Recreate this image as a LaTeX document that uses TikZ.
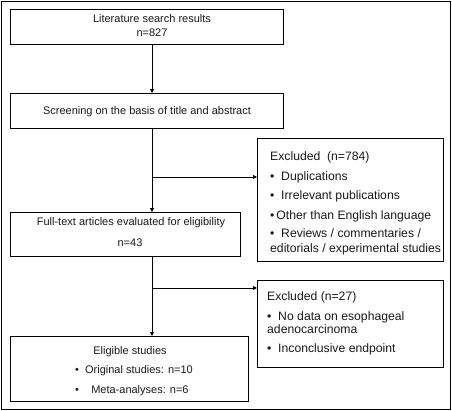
\documentclass[tikz,border=0pt]{standalone}
\usepackage{fontspec}
\setmainfont{Liberation Sans}
\usetikzlibrary{arrows.meta}
\begin{document}
\begin{tikzpicture}[x=1pt,y=-1pt,
  box/.style={draw=black,line width=1pt,anchor=north west,inner sep=0pt,outer sep=0pt},
  txt/.style={inner sep=0pt,font=\fontsize{11}{13}\selectfont,text=black!90},
  ltxt/.style={txt,anchor=west},
  etxt/.style={inner sep=0pt,anchor=west,font=\fontsize{12.2}{14}\selectfont,text=black!90},
  arr/.style={draw=black,line width=0.9pt,-{Triangle[length=4pt,width=4pt]}},
  ln/.style={draw=black,line width=0.9pt}]
\useasboundingbox (0,0) rectangle (452,410);
\node[draw=black,line width=1pt,anchor=north west,minimum width=449pt,minimum height=408pt,inner sep=0pt] (frame) at (1,1) {};
% boxes
\node[box,minimum width=273pt,minimum height=35pt] (b1) at (10,9) {};
\node[box,minimum width=273pt,minimum height=35pt] (b2) at (10,93) {};
\node[box,minimum width=186pt,minimum height=123pt] (e1) at (257,138) {};
\node[box,minimum width=230pt,minimum height=44pt] (b3) at (10,212) {};
\node[box,minimum width=186pt,minimum height=87pt] (e2) at (257,280) {};
\node[box,minimum width=238pt,minimum height=65pt] (b4) at (10,336) {};
% texts
\node[txt] (t1a) at (152,19) {Literature search results};
\node[txt] (t1b) at (152,33) {n=827};
\node[txt] (t2) at (147,112) {Screening on the basis of title and abstract};
\node[etxt] (e1a) at (270,157) {Excluded~~(n=784)};
\node[etxt] (e1b) at (270,177) {•~~Duplications};
\node[etxt] (e1c) at (270,196) {•~~Irrelevant publications};
\node[etxt] (e1d) at (270,216) {•\,Other than English language};
\node[etxt] (e1e) at (270,233) {•~~Reviews / commentaries /};
\node[etxt] (e1f) at (270,249) {editorials / experimental studies};
\node[txt] (t3a) at (131,223) {Full-text articles evaluated for eligibility};
\node[txt] (t3b) at (130,243) {n=43};
\node[etxt] (e2a) at (267,297) {Excluded (n=27)};
\node[etxt] (e2b) at (267,317) {•~~No data on esophageal};
\node[etxt] (e2c) at (267,329) {adenocarcinoma};
\node[etxt] (e2d) at (267,349) {•~~Inconclusive endpoint};
\node[txt] (t4a) at (130,352) {Eligible studies};
\node[ltxt] (t4b) at (75,371) {•~~Original studies: n=10};
\node[ltxt] (t4c) at (75,391) {•~~~~Meta-analyses: n=6};
% connectors
\coordinate (sp) at (152,0);
\coordinate (j1) at (152,177);
\coordinate (j2) at (152,288);
\draw[arr] (b1.south -| sp) -- (b2.north -| sp);
\draw[arr] (b2.south -| sp) -- (b3.north -| sp);
\draw[arr] (b3.south -| sp) -- (b4.north -| sp);
\draw[arr] (j1) -- (j1 -| e1.west);
\draw[arr] (j2) -- (j2 -| e2.west);
\end{tikzpicture}
\end{document}
